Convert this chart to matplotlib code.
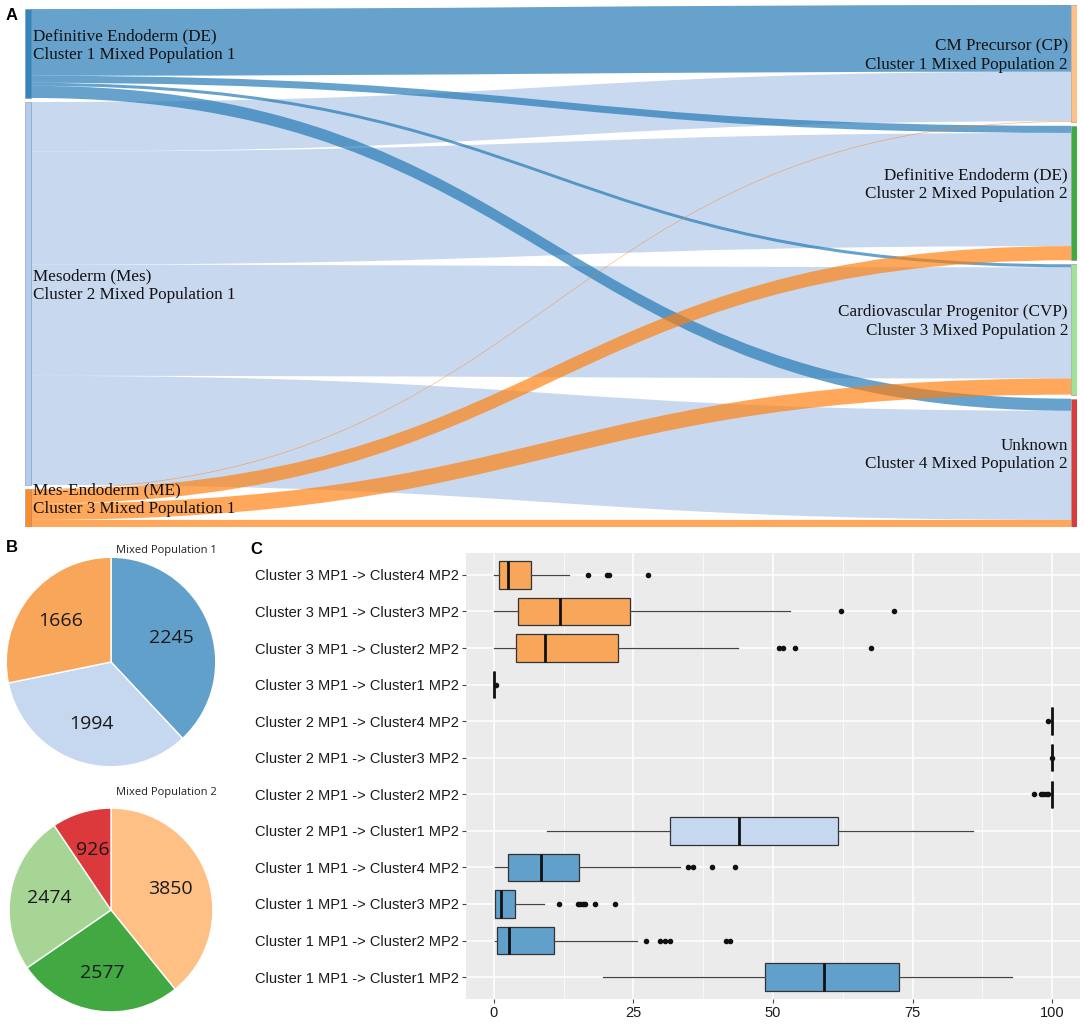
import math
import matplotlib.pyplot as plt
from matplotlib.path import Path
from matplotlib.patches import PathPatch, Rectangle

# ---- data ----
# sankey (A)
left_nodes = ['Definitive Endoderm (DE)\nCluster 1 Mixed Population 1',
              'Mesoderm (Mes)\nCluster 2 Mixed Population 1',
              'Mes-Endoderm (ME)\nCluster 3 Mixed Population 1']
right_nodes = ['CM Precursor (CP)\nCluster 1 Mixed Population 2',
               'Definitive Endoderm (DE)\nCluster 2 Mixed Population 2',
               'Cardiovascular Progenitor (CVP)\nCluster 3 Mixed Population 2',
               'Unknown\nCluster 4 Mixed Population 2']
flow_src = [0, 0, 0, 0, 1, 1, 1, 1, 2, 2, 2, 2]
flow_dst = [0, 1, 2, 3, 0, 1, 2, 3, 0, 1, 2, 3]
flow_val = [66, 7, 3, 12, 49, 112, 110, 108, 0.6, 14, 16, 7]

# pies (B)
mp1_values = [2245, 1994, 1666]
mp2_values = [3850, 2577, 2474, 926]

# boxplots (C), bottom row first
box_labels = ['Cluster 1 MP1 -> Cluster1 MP2', 'Cluster 1 MP1 -> Cluster2 MP2',
              'Cluster 1 MP1 -> Cluster3 MP2', 'Cluster 1 MP1 -> Cluster4 MP2',
              'Cluster 2 MP1 -> Cluster1 MP2', 'Cluster 2 MP1 -> Cluster2 MP2',
              'Cluster 2 MP1 -> Cluster3 MP2', 'Cluster 2 MP1 -> Cluster4 MP2',
              'Cluster 3 MP1 -> Cluster1 MP2', 'Cluster 3 MP1 -> Cluster2 MP2',
              'Cluster 3 MP1 -> Cluster3 MP2', 'Cluster 3 MP1 -> Cluster4 MP2']
box_lo = [19.6, 0.2, 0.2, 0.2, 9.5, 99.6, 100, 99.8, 0, 0, 0, 0]
box_q1 = [48.6, 0.5, 0.2, 2.6, 31.6, 100, 100, 100, 0, 3.9, 4.4, 0.95]
box_med = [59.2, 2.7, 1.25, 8.5, 43.9, 100, 100, 100, 0, 9.2, 11.9, 2.6]
box_q3 = [72.5, 10.7, 3.8, 15.3, 61.7, 100, 100, 100, 0, 22.2, 24.4, 6.7]
box_hi = [92.9, 25.7, 9.0, 33.3, 85.9, 100, 100, 100, 0, 43.7, 53.1, 13.4]
box_fliers = [[],
              [27.2, 29.8, 30.6, 31.5, 41.6, 42.3],
              [11.7, 15.1, 15.5, 15.9, 16.3, 18.1, 21.7],
              [34.8, 35.7, 39.1, 43.2],
              [],
              [96.7, 98.0, 98.4, 98.9, 99.3],
              [99.9],
              [99.2],
              [0.3],
              [51.0, 51.8, 53.9, 67.6],
              [62.2, 71.7],
              [16.8, 20.3, 20.7, 27.6]]
box_group = [0, 0, 0, 0, 1, 1, 1, 1, 2, 2, 2, 2]

# ---- styles ----
left_colors = ['#1f77b4', '#aec7e8', '#ff7f0e']
right_colors = ['#ffbb78', '#2ca02c', '#98df8a', '#d62728']
soft_colors = ['#62a0cc', '#c6d8ef', '#f8a65a']
mp2_colors = ['#fec085', '#42a942', '#a6d595', '#dc393d']
serif = 'Liberation Serif'

W, H = 1084, 1024
fig = plt.figure(figsize=(W / 100, H / 100), dpi=100)


def px_axes(x0, y0, x1, y1):
    return fig.add_axes([x0 / W, 1 - y1 / H, (x1 - x0) / W, (y1 - y0) / H])


# ================= A: sankey =================
ax = px_axes(25, 5, 1077, 527)
pad = 4
nl, nr = len(left_nodes), len(right_nodes)
left_tot = [sum(v for s, v in zip(flow_src, flow_val) if s == i) for i in range(nl)]
right_tot = [sum(v for d, v in zip(flow_dst, flow_val) if d == j) for j in range(nr)]
col_l = sum(left_tot) + pad * (nl - 1)
col_r = sum(right_tot) + pad * (nr - 1)
span = max(col_l, col_r)

left_y0 = []
y = span - col_l
for t in left_tot:
    left_y0.append(y)
    y += t + pad
right_y0 = []
y = span - col_r
for t in right_tot:
    right_y0.append(y)
    y += t + pad

xw = 6
xs, xt = xw, 1052 - xw
xm = (xs + xt) / 2

# where each flow leaves its source and enters its target
src_off = list(left_y0)
flow_sy = [0] * len(flow_val)
for k in range(len(flow_val)):
    flow_sy[k] = src_off[flow_src[k]]
    src_off[flow_src[k]] += flow_val[k]
dst_off = list(right_y0)
flow_ty = [0] * len(flow_val)
for k in sorted(range(len(flow_val)), key=lambda k: (flow_dst[k], flow_src[k])):
    flow_ty[k] = dst_off[flow_dst[k]]
    dst_off[flow_dst[k]] += flow_val[k]

draw_order = [k for s in (1, 0, 2) for k in range(len(flow_val)) if flow_src[k] == s]
for k in draw_order:
    s0, t0 = flow_sy[k], flow_ty[k]
    s1, t1 = s0 + flow_val[k], t0 + flow_val[k]
    verts = [(xs, s0), (xm, s0), (xm, t0), (xt, t0),
             (xt, t1), (xm, t1), (xm, s1), (xs, s1), (xs, s0)]
    codes = [Path.MOVETO, Path.CURVE4, Path.CURVE4, Path.CURVE4,
             Path.LINETO, Path.CURVE4, Path.CURVE4, Path.CURVE4, Path.CLOSEPOLY]
    ax.add_patch(PathPatch(Path(verts, codes), facecolor=left_colors[flow_src[k]],
                           edgecolor='none', alpha=0.68, lw=0))

for i in range(nl):
    ax.add_patch(Rectangle((0, left_y0[i]), xw, left_tot[i], facecolor=left_colors[i],
                           edgecolor='#6f8fb8', lw=0.4, alpha=0.9))
    ax.text(xw + 2, left_y0[i] + left_tot[i] / 2 - 8, left_nodes[i], ha='left',
            va='center', fontfamily=serif, fontsize=12.3, linespacing=1.2,
            color='#111111')
for j in range(nr):
    ax.add_patch(Rectangle((xt, right_y0[j]), xw, right_tot[j], facecolor=right_colors[j],
                           edgecolor='#888888', lw=0.4, alpha=0.9))
    ax.text(xt - 3, right_y0[j] + right_tot[j] / 2 - 8, right_nodes[j], ha='right',
            va='center', multialignment='right', fontfamily=serif, fontsize=12.3,
            linespacing=1.2, color='#111111')

ax.set_xlim(0, 1052)
ax.set_ylim(span, 0)
ax.axis('off')


# ================= B: pies =================
def draw_pie(box, values, colors, title, ty):
    axp = px_axes(*box)
    wedges, _ = axp.pie(values, colors=colors, startangle=90, counterclock=False,
                        wedgeprops=dict(edgecolor='white', linewidth=1))
    for w, v in zip(wedges, values):
        a = math.radians((w.theta1 + w.theta2) / 2)
        axp.text(0.62 * math.cos(a), 0.62 * math.sin(a), str(v), ha='center',
                 va='center', fontsize=14, fontfamily='Open Sans', color='#1a1a1a')
    axp.set_xlim(-1.05, 1.05)
    axp.set_ylim(-1.05, 1.05)
    axp.set_aspect('equal')
    axp.axis('off')
    fig.text(166 / W, 1 - ty / H, title, ha='center', va='center',
             fontsize=8, fontfamily='Open Sans', color='#222222')


draw_pie((1, 552, 221, 772), mp1_values, soft_colors, 'Mixed Population 1', 550)
draw_pie((4, 803, 218, 1017), mp2_values, mp2_colors, 'Mixed Population 2', 793)


# ================= C: boxplots =================
axb = px_axes(466, 553, 1080, 999)
stats = []
for i in range(len(box_labels)):
    stats.append(dict(whislo=box_lo[i], q1=box_q1[i], med=box_med[i], q3=box_q3[i],
                      whishi=box_hi[i], fliers=box_fliers[i]))
bp = axb.bxp(stats, positions=range(len(stats)), widths=0.75, orientation='horizontal',
             patch_artist=True, showcaps=False,
             boxprops=dict(edgecolor='#333333', linewidth=0.9),
             whiskerprops=dict(color='#444444', linewidth=0.9),
             medianprops=dict(color='#111111', linewidth=2),
             flierprops=dict(marker='o', markersize=3, markerfacecolor='#111111',
                             markeredgecolor='#111111'))
for patch, g in zip(bp['boxes'], box_group):
    patch.set_facecolor(soft_colors[g])

axb.set_facecolor('#ebebeb')
for sp in axb.spines.values():
    sp.set_visible(False)
axb.set_xlim(-5, 105)
axb.set_ylim(-0.6, len(box_labels) - 0.4)
axb.set_xticks([0, 25, 50, 75, 100])
axb.set_xticks([12.5, 37.5, 62.5, 87.5], minor=True)
axb.set_yticks(range(len(box_labels)))
axb.set_yticklabels(box_labels)
axb.grid(True, which='major', color='white', linewidth=1.1)
axb.grid(True, which='minor', axis='x', color='white', linewidth=0.5)
axb.set_axisbelow(True)
axb.tick_params(axis='both', which='major', length=3, width=0.8, color='#444444',
                labelsize=10.5, labelcolor='#1a1a1a', pad=2)
axb.tick_params(axis='x', which='minor', length=0)
for lab in axb.get_xticklabels() + axb.get_yticklabels():
    lab.set_fontfamily('Liberation Sans')

# panel letters
for letter, x, y in [('A', 12, 16), ('B', 12, 548), ('C', 256, 550)]:
    fig.text(x / W, 1 - y / H, letter, ha='center', va='center', fontsize=12,
             fontweight='bold', fontfamily='Liberation Sans')

fig.savefig('out.png', dpi=100)
